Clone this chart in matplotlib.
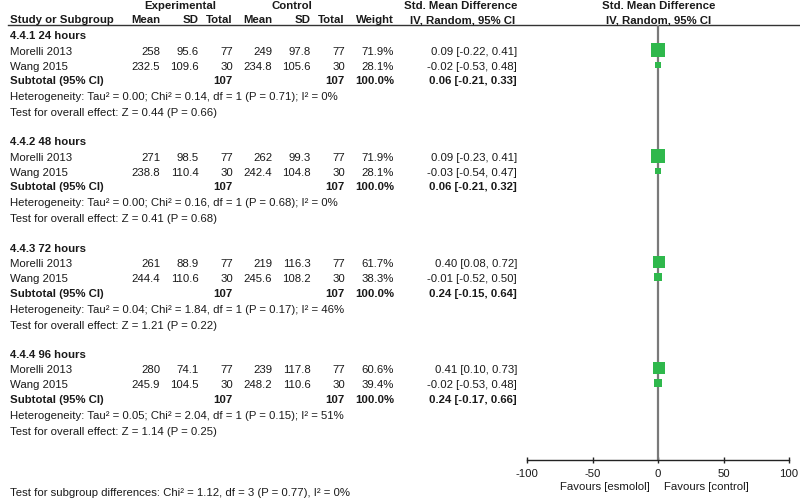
import os

import matplotlib

matplotlib.use("Agg")
import matplotlib.font_manager as fm
import matplotlib.pyplot as plt

plt.rcParams["font.family"] = ["Liberation Sans", "DejaVu Sans"]

# data
groups = ["4.4.1 24 hours", "4.4.2 48 hours", "4.4.3 72 hours", "4.4.4 96 hours"]
studies = ["Morelli 2013", "Wang 2015"]
exp_mean = [[258, 232.5], [271, 238.8], [261, 244.4], [280, 245.9]]
exp_sd = [[95.6, 109.6], [98.5, 110.4], [88.9, 110.6], [74.1, 104.5]]
exp_n = [[77, 30], [77, 30], [77, 30], [77, 30]]
ctl_mean = [[249, 234.8], [262, 242.4], [219, 245.6], [239, 248.2]]
ctl_sd = [[97.8, 105.6], [99.3, 104.8], [116.3, 108.2], [117.8, 110.6]]
ctl_n = [[77, 30], [77, 30], [77, 30], [77, 30]]
weights = [[71.9, 28.1], [71.9, 28.1], [61.7, 38.3], [60.6, 39.4]]
smd = [[0.09, -0.02], [0.09, -0.03], [0.40, -0.01], [0.41, -0.02]]
ci_lo = [[-0.22, -0.53], [-0.23, -0.54], [0.08, -0.52], [0.10, -0.53]]
ci_hi = [[0.41, 0.48], [0.41, 0.47], [0.72, 0.50], [0.73, 0.48]]
sub_smd = [0.06, 0.06, 0.24, 0.24]
sub_lo = [-0.21, -0.21, -0.15, -0.17]
sub_hi = [0.33, 0.32, 0.64, 0.66]
tau2 = [0.00, 0.00, 0.04, 0.05]
chi2 = [0.14, 0.16, 1.84, 2.04]
het_p = [0.71, 0.68, 0.17, 0.15]
i2 = [0, 0, 46, 51]
z_val = [0.44, 0.41, 1.21, 1.14]
z_p = [0.66, 0.68, 0.22, 0.25]
x_ticks = [-100, -50, 0, 50, 100]
fav_left = "Favours [esmolol]"
fav_right = "Favours [control]"
subgroup_test = "Test for subgroup differences: Chi² = 1.12, df = 3 (P = 0.77), I² = 0%"

W, H = 800, 499
FS = 8.2
TXT = "#1a1a1a"
GREEN = "#2fb84c"


def font_file(base):
    # pick the regular-width Liberation Sans file, never the Narrow one
    for f in fm.fontManager.ttflist:
        if os.path.basename(f.fname) == base:
            return f.fname
    return None


REG = font_file("LiberationSans-Regular.ttf")
BOLD = font_file("LiberationSans-Bold.ttf")


def fprops(bold):
    path = BOLD if bold else REG
    if path:
        return fm.FontProperties(fname=path, size=FS)
    return fm.FontProperties(family="DejaVu Sans", size=FS,
                             weight="bold" if bold else "normal")


fig = plt.figure(figsize=(W / 100, H / 100), dpi=100)
ax = fig.add_axes([0, 0, 1, 1])
ax.set_xlim(0, W)
ax.set_ylim(H, 0)
ax.axis("off")

# plot region in pixel coords: x -100..100 -> 527..789, y 25..460
PX0, PX1, PY0, PY1 = 527, 789, 25, 460
fax = fig.add_axes([PX0 / W, (H - PY1) / H, (PX1 - PX0) / W, (PY1 - PY0) / H])
fax.set_xlim(-100, 100)
fax.set_ylim(PY1, PY0)
fax.patch.set_alpha(0)


def t(x, y, s, ha="left", bold=False):
    ax.text(x, y, s, ha=ha, va="center", color=TXT, fontproperties=fprops(bold))


def fmt(v):
    return f"{v:g}"


# header
t(180, 6, "Experimental", ha="center", bold=True)
t(292, 6, "Control", ha="center", bold=True)
t(461, 6, "Std. Mean Difference", ha="center", bold=True)
t(659, 6, "Std. Mean Difference", ha="center", bold=True)
t(10, 20, "Study or Subgroup", bold=True)
for x, s in [(160, "Mean"), (199, "SD"), (233, "Total"), (272, "Mean"),
             (311, "SD"), (345, "Total"), (394, "Weight")]:
    t(x, 20, s, ha="right", bold=True)
t(463, 20, "IV, Random, 95% CI", ha="center", bold=True)
t(659, 20, "IV, Random, 95% CI", ha="center", bold=True)
ax.plot([8, W], [25, 25], color="#333333", lw=1.0)

cols = [160, 199, 233, 272, 311, 345]
for g, name in enumerate(groups):
    y0 = 36 + 106.3 * g
    t(10, y0, name, bold=True)
    for i, st in enumerate(studies):
        y = y0 + 15.5 + 15 * i
        t(10, y, st)
        vals = [fmt(exp_mean[g][i]), fmt(exp_sd[g][i]), str(exp_n[g][i]),
                fmt(ctl_mean[g][i]), fmt(ctl_sd[g][i]), str(ctl_n[g][i])]
        for x, s in zip(cols, vals):
            t(x, y, s, ha="right")
        t(394, y, f"{weights[g][i]:.1f}%", ha="right")
        t(517, y, f"{smd[g][i]:.2f} [{ci_lo[g][i]:.2f}, {ci_hi[g][i]:.2f}]", ha="right")
        # study marker and CI
        fax.plot([ci_lo[g][i], ci_hi[g][i]], [y - 2, y - 2], color="#333333", lw=0.8, zorder=3)
        side = 2 + 0.155 * weights[g][i]
        fax.plot(smd[g][i], y - 2, marker="s", ms=side * 0.72, color=GREEN,
                 mec=GREEN, mew=0, zorder=4)
    ys = y0 + 45
    t(10, ys, "Subtotal (95% CI)", bold=True)
    t(233, ys, str(sum(exp_n[g])), ha="right", bold=True)
    t(345, ys, str(sum(ctl_n[g])), ha="right", bold=True)
    t(394, ys, f"{sum(weights[g]):.1f}%", ha="right", bold=True)
    t(517, ys, f"{sub_smd[g]:.2f} [{sub_lo[g]:.2f}, {sub_hi[g]:.2f}]", ha="right", bold=True)
    # pooled diamond (hidden behind the null line at this scale)
    fax.fill([sub_lo[g], sub_smd[g], sub_hi[g], sub_smd[g]],
             [ys - 2, ys - 6, ys - 2, ys + 2], color="#222222", lw=0, zorder=1)
    t(10, y0 + 61, f"Heterogeneity: Tau² = {tau2[g]:.2f}; Chi² = {chi2[g]:.2f}, "
                   f"df = 1 (P = {het_p[g]:.2f}); I² = {i2[g]}%")
    t(10, y0 + 77, f"Test for overall effect: Z = {z_val[g]:.2f} (P = {z_p[g]:.2f})")

t(10, 493, subgroup_test)

# forest axis
fax.axvline(0, color="#7a7a7a", lw=1.6, zorder=2)
for s in ["top", "right", "left"]:
    fax.spines[s].set_visible(False)
fax.spines["bottom"].set_color("#222222")
fax.spines["bottom"].set_linewidth(1.0)
fax.set_yticks([])
fax.set_xticks(x_ticks)
fax.set_xticklabels([str(v) for v in x_ticks])
for lab in fax.get_xticklabels():
    lab.set_fontproperties(fprops(False))
fax.tick_params(axis="x", direction="inout", length=5, width=1.0, colors="#222222",
                labelcolor=TXT, pad=4)
t(650, 487, fav_left, ha="right")
t(664, 487, fav_right, ha="left")

fig.savefig("out.png", dpi=100)
